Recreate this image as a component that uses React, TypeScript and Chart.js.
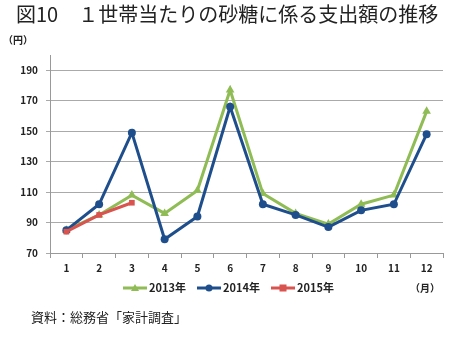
import React, { useEffect, useRef } from "react";
import { Chart, registerables } from "chart.js";

Chart.register(...registerables);

const months = ["1", "2", "3", "4", "5", "6", "7", "8", "9", "10", "11", "12"];
const y2013 = [85, 95, 108, 96, 111, 177, 109, 96, 89, 102, 108, 163];
const y2014 = [85, 102, 149, 79, 94, 166, 102, 95, 87, 98, 102, 148];
const y2015 = [84, 95, 103, null, null, null, null, null, null, null, null, null];
const yTickValues = [70, 90, 110, 130, 150, 170, 190];
const seriesNames = ["2013年", "2014年", "2015年"];
const colors = ["#8fbc54", "#1f4e8c", "#d9534f"];
const markers = ["triangle", "circle", "rect"];

const titleText = "図10　１世帯当たりの砂糖に係る支出額の推移";
const yUnit = "（円）";
const xUnit = "（月）";
const sourceText = "資料：総務省「家計調査」";

const JP = '"Noto Sans CJK JP", "Noto Sans", sans-serif';

export default function App() {
  const ref = useRef<HTMLCanvasElement | null>(null);
  useEffect(() => {
    if (!ref.current) return;
    const extras = {
      id: "extras",
      afterDraw(chart: any) {
        const ctx = chart.ctx as CanvasRenderingContext2D;
        ctx.save();
        ctx.fillStyle = "#222";
        ctx.textBaseline = "middle";
        ctx.textAlign = "left";
        ctx.font = `400 20px ${JP}`;
        ctx.fillText(titleText, 16, 14);
        ctx.font = `bold 10px ${JP}`;
        ctx.fillText(yUnit, 3, 40);
        ctx.fillText(xUnit, 410, 288);
        ctx.font = `13px ${JP}`;
        ctx.fillText(sourceText, 31, 317);
        // legend
        const items = [123, 197, 271];
        items.forEach((x0, i) => {
          const y = 288;
          ctx.strokeStyle = colors[i];
          ctx.lineWidth = 3;
          ctx.beginPath();
          ctx.moveTo(x0, y);
          ctx.lineTo(x0 + 24, y);
          ctx.stroke();
          ctx.fillStyle = colors[i];
          const cx = x0 + 12;
          if (i === 0) {
            ctx.beginPath();
            ctx.moveTo(cx, y - 4);
            ctx.lineTo(cx + 4, y + 3);
            ctx.lineTo(cx - 4, y + 3);
            ctx.closePath();
            ctx.fill();
          } else if (i === 1) {
            ctx.beginPath();
            ctx.arc(cx, y, 3.5, 0, Math.PI * 2);
            ctx.fill();
          } else {
            ctx.fillRect(cx - 3.5, y - 3.5, 7, 7);
          }
          ctx.fillStyle = "#222";
          ctx.font = `bold 11px ${JP}`;
          ctx.fillText(seriesNames[i], x0 + 26, y);
        });
        ctx.restore();
      },
    };
    const mk = (i: number, data: (number | null)[]) => ({
      label: seriesNames[i],
      data,
      order: 3 - i,
      borderColor: colors[i],
      backgroundColor: colors[i],
      borderWidth: 3,
      pointStyle: markers[i],
      pointRadius: i === 0 ? 5 : 4,
      pointBorderWidth: 0,
      tension: 0,
      spanGaps: false,
    });
    const chart = new Chart(ref.current, {
      type: "line",
      data: {
        labels: months,
        datasets: [mk(0, y2013), mk(1, y2014), mk(2, y2015)],
      },
      plugins: [extras],
      options: {
        animation: false,
        responsive: false,
        layout: { padding: { top: 55, left: 0, right: 7, bottom: 84 } },
        plugins: { legend: { display: false }, title: { display: false }, tooltip: { enabled: false } },
        scales: {
          x: {
            offset: true,
            grid: { offset: true, drawOnChartArea: false, drawTicks: true, tickLength: 5, color: "#999" },
            border: { color: "#999" },
            ticks: { color: "#222", font: { family: JP, size: 10, weight: "bold" }, padding: 4, maxRotation: 0 },
          },
          y: {
            min: 70,
            max: 200,
            afterBuildTicks: (scale: any) => {
              scale.ticks = yTickValues.map((v) => ({ value: v }));
            },
            afterFit: (scale: any) => {
              scale.width = 50;
            },
            grid: { color: "#aaa", tickLength: 4, lineWidth: 1 },
            border: { color: "#999" },
            ticks: { color: "#222", font: { family: JP, size: 10, weight: "bold" }, padding: 8 },
          },
        },
      },
    } as any);
    return () => chart.destroy();
  }, []);
  return (
    <div style={{ position: "absolute", left: 0, top: 0, width: 450, height: 362, background: "#fff" }}>
      <canvas ref={ref} width={450} height={362} style={{ width: 450, height: 362 }} />
    </div>
  );
}
